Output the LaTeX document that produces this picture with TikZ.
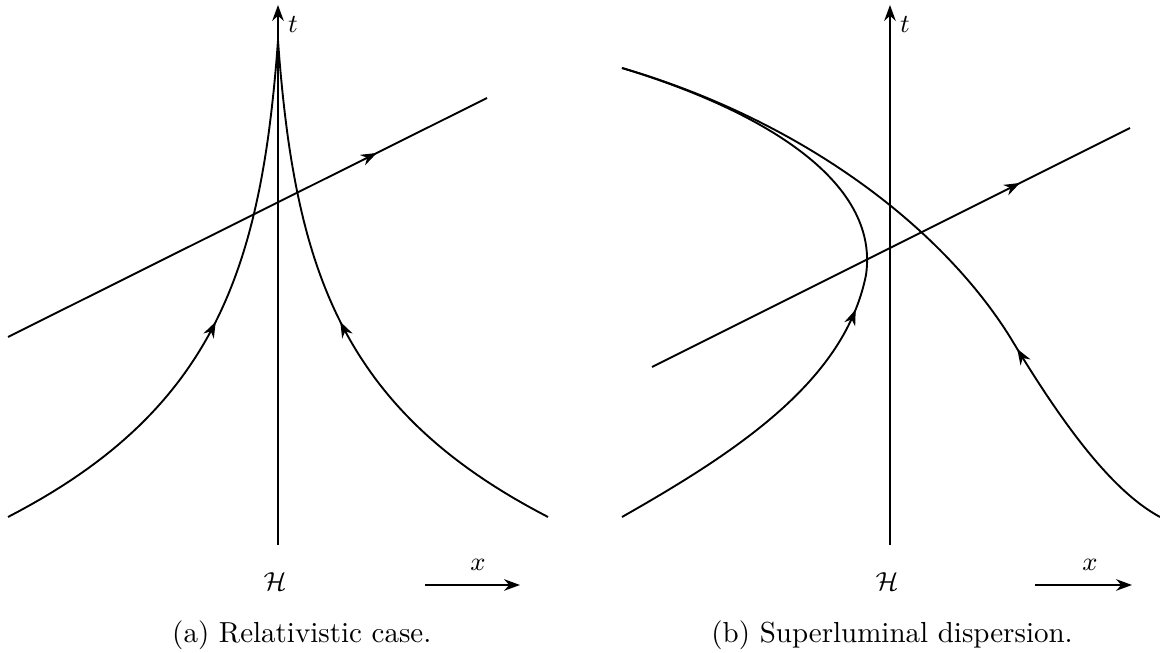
\documentclass[tikz,border=0pt]{standalone}
\usetikzlibrary{arrows.meta,decorations.markings}
\tikzset{
  >={Stealth[length=5.5pt,width=4pt]},
  world/.style={line width=0.65pt},
  flow/.style={postaction={decorate},
    decoration={markings,mark=at position #1 with {\arrow{>}}}},
  lbl/.style={font=\small},
}
\begin{document}
\begin{tikzpicture}[x=0.345pt,y=-0.345pt]
\useasboundingbox (0,0) rectangle (1160,653);

% (a) relativistic case
\coordinate (axA0) at (278,545);
\coordinate (axA1) at (278,5);
\draw[world,->] (axA0) -- (axA1);
\node[lbl] (tA) at (293,24) {$t$};

\coordinate (cusp) at (278,40);
\draw[world,flow=0.5] plot[domain=0:1,samples=80,variable=\s]
  ({278-270*(exp(-3.3*\s)-0.0369)/0.9631},{517-477*\s});
\draw[world,flow=0.5] plot[domain=0:1,samples=80,variable=\s]
  ({278+270*(exp(-3.3*\s)-0.0369)/0.9631},{517-477*\s});

\coordinate (rayA0) at (8,337);
\coordinate (rayA1) at (487,98);
\draw[world,flow=0.77] (rayA0) -- (rayA1);

\node[lbl] (hA) at (275,582) {$\mathcal{H}$};
\coordinate (xA0) at (425,585);
\coordinate (xA1) at (520,585);
\draw[world,->] (xA0) -- (xA1);
\node[lbl] (xA) at (478,565) {$x$};
\node[anchor=base west] (capA) at (162,643) {(a) Relativistic case.};

% (b) superluminal dispersion
\coordinate (axB0) at (890,545);
\coordinate (axB1) at (890,5);
\draw[world,->] (axB0) -- (axB1);
\node[lbl] (tB) at (905,24) {$t$};

\coordinate (tip) at (622,68);
\coordinate (inB) at (622,517);
\coordinate (outB) at (1160,517);
\draw[world,flow=0.455] (inB) .. controls (740,450) and (845,380) .. (866,275)
  .. controls (880,180) and (760,110) .. (tip);
\draw[world,flow=0.31] (outB) .. controls (1110,490) and (1060,420) .. (1010,337)
  .. controls (940,225) and (800,120) .. (tip);

\coordinate (rayB0) at (652,367);
\coordinate (rayB1) at (1130,128);
\draw[world,flow=0.77] (rayB0) -- (rayB1);

\node[lbl] (hB) at (887,582) {$\mathcal{H}$};
\coordinate (xB0) at (1035,585);
\coordinate (xB1) at (1132,585);
\draw[world,->] (xB0) -- (xB1);
\node[lbl] (xB) at (1090,565) {$x$};
\node[anchor=base east] (capB) at (1083,643) {(b) Superluminal dispersion.};
\end{tikzpicture}
\end{document}
